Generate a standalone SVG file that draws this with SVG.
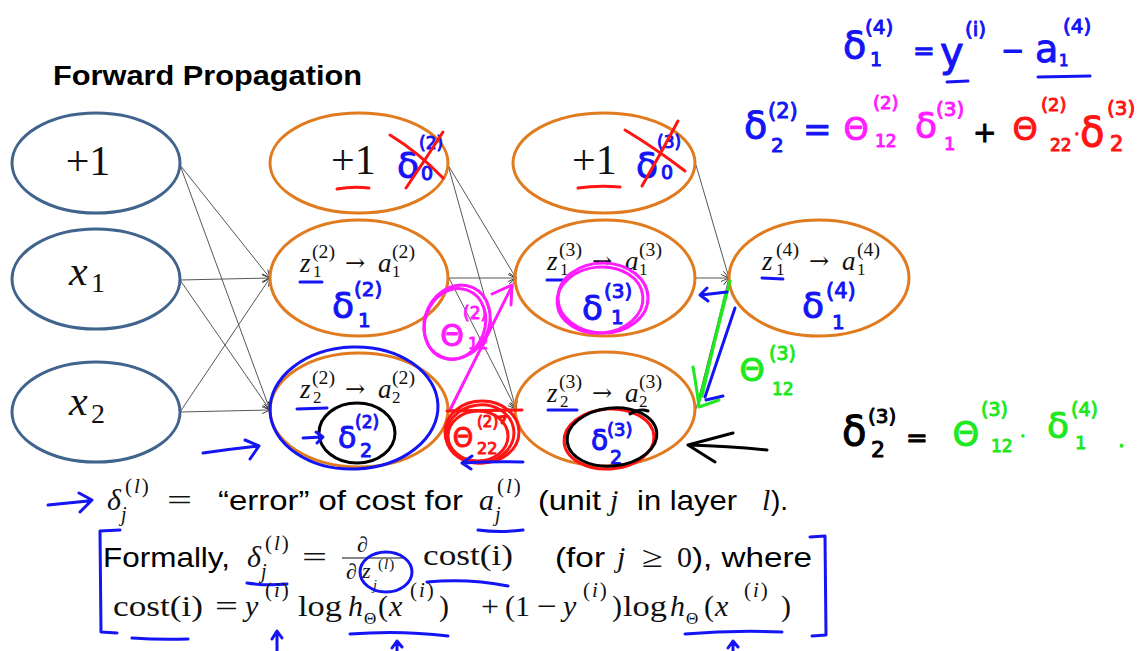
<svg xmlns="http://www.w3.org/2000/svg" width="1139" height="651" viewBox="0 0 1139 651">
<defs>
<marker id="arr" markerUnits="userSpaceOnUse" markerWidth="10" markerHeight="8" refX="9" refY="4" orient="auto">
<path d="M1,0.5 L9,4 L1,7.5" fill="none" stroke="#333" stroke-width="0.9"/>
</marker>
</defs>
<style>
.in{fill:none;stroke:#41648c;stroke-width:3}
.hn{fill:none;stroke:#e07b1f;stroke-width:3}
.cn line{stroke:#444;stroke-width:0.9;marker-end:url(#arr)}
.m{font-family:"Liberation Serif",serif;fill:#111}
.mi{font-style:italic}
.sup{font-size:21px;letter-spacing:2px}
.ar{font-family:"DejaVu Serif",serif;font-size:24px}
.s{font-family:"Liberation Sans",sans-serif;fill:#000}
.hw{font-family:"DejaVu Sans","Liberation Sans",sans-serif;stroke-width:1;stroke-linejoin:round}
.b{fill:#1414f5;stroke:#1414f5}.p{fill:#ff1cff;stroke:#ff1cff}.r{fill:#ff1414;stroke:#ff1414}.g{fill:#1ee81e;stroke:#1ee81e}.k{fill:#000;stroke:#000}
.sb,.sp,.sr,.sg,.sk{fill:none;stroke-width:3;stroke-linecap:round;stroke-linejoin:round}
.sb{stroke:#1414f5}.sp{stroke:#ff1cff}.sr{stroke:#ff1414}.sg{stroke:#1ee81e}.sk{stroke:#000}
</style>
<rect width="1139" height="651" fill="#fff"/>

<text class="s" x="53" y="85" font-size="28" font-weight="bold" textLength="309" lengthAdjust="spacingAndGlyphs">Forward Propagation</text>

<!-- connectors -->
<g id="connectors" class="cn">
<line x1="180" y1="165" x2="270" y2="278"/>
<line x1="180" y1="165" x2="270" y2="410"/>
<line x1="180" y1="280" x2="270" y2="278"/>
<line x1="180" y1="280" x2="270" y2="410"/>
<line x1="180" y1="412" x2="270" y2="278"/>
<line x1="180" y1="412" x2="270" y2="410"/>
<line x1="448" y1="165" x2="516" y2="278"/>
<line x1="448" y1="165" x2="516" y2="409"/>
<line x1="449" y1="278" x2="516" y2="278"/>
<line x1="449" y1="278" x2="516" y2="409"/>
<line x1="449" y1="410" x2="516" y2="278"/>
<line x1="449" y1="410" x2="516" y2="409"/>
<line x1="696" y1="165" x2="729" y2="278"/>
<line x1="696" y1="278" x2="729" y2="278"/>
<line x1="696" y1="409" x2="729" y2="278"/>
</g>

<!-- input layer -->
<g id="in0"><ellipse class="in" cx="96" cy="163" rx="84" ry="50"/><text class="m" x="88" y="175" font-size="42" text-anchor="middle">+1</text></g>
<g id="in1"><ellipse class="in" cx="96" cy="279" rx="84" ry="50"/><text class="m mi" x="69" y="285" font-size="42">x</text><text class="m" x="91" y="292" font-size="28">1</text></g>
<g id="in2"><ellipse class="in" cx="96" cy="412" rx="84" ry="50"/><text class="m mi" x="69" y="415" font-size="42">x</text><text class="m" x="91" y="423" font-size="28">2</text></g>

<!-- layer 2 -->
<g id="l2n0"><ellipse class="hn" cx="359" cy="163" rx="89" ry="50"/><text class="m" x="331" y="174" font-size="42">+1</text></g>
<g id="l2n1"><ellipse class="hn" cx="359" cy="278" rx="89" ry="58"/>
<g class="m" font-size="27" transform="translate(300,272)"><text class="mi" x="0" y="0">z</text><text x="13" y="5" font-size="17">1</text><text x="12" y="-14" font-size="18" textLength="23" lengthAdjust="spacingAndGlyphs">(2)</text><text class="ar" x="45" y="-1">→</text><text class="mi" x="78" y="0">a</text><text x="92" y="5" font-size="17">1</text><text x="92" y="-14" font-size="18" textLength="23" lengthAdjust="spacingAndGlyphs">(2)</text></g></g>
<g id="l2n2"><ellipse class="hn" cx="359" cy="410" rx="89" ry="57"/>
<g class="m" font-size="27" transform="translate(300,398)"><text class="mi" x="0" y="0">z</text><text x="13" y="5" font-size="17">2</text><text x="12" y="-14" font-size="18" textLength="23" lengthAdjust="spacingAndGlyphs">(2)</text><text class="ar" x="45" y="-1">→</text><text class="mi" x="78" y="0">a</text><text x="92" y="5" font-size="17">2</text><text x="92" y="-14" font-size="18" textLength="23" lengthAdjust="spacingAndGlyphs">(2)</text></g></g>

<!-- layer 3 -->
<g id="l3n0"><ellipse class="hn" cx="604" cy="163" rx="91" ry="50"/><text class="m" x="572" y="174" font-size="42">+1</text></g>
<g id="l3n1"><ellipse class="hn" cx="605" cy="278" rx="90" ry="58"/>
<g class="m" font-size="27" transform="translate(547,270)"><text class="mi" x="0" y="0">z</text><text x="13" y="5" font-size="17">1</text><text x="12" y="-14" font-size="18" textLength="23" lengthAdjust="spacingAndGlyphs">(3)</text><text class="ar" x="45" y="-1">→</text><text class="mi" x="78" y="0">a</text><text x="92" y="5" font-size="17">1</text><text x="92" y="-14" font-size="18" textLength="23" lengthAdjust="spacingAndGlyphs">(3)</text></g></g>
<g id="l3n2"><ellipse class="hn" cx="605" cy="409" rx="90" ry="57"/>
<g class="m" font-size="27" transform="translate(547,402)"><text class="mi" x="0" y="0">z</text><text x="13" y="5" font-size="17">2</text><text x="12" y="-14" font-size="18" textLength="23" lengthAdjust="spacingAndGlyphs">(3)</text><text class="ar" x="45" y="-1">→</text><text class="mi" x="78" y="0">a</text><text x="92" y="5" font-size="17">2</text><text x="92" y="-14" font-size="18" textLength="23" lengthAdjust="spacingAndGlyphs">(3)</text></g></g>

<!-- layer 4 -->
<g id="l4n1"><ellipse class="hn" cx="819" cy="278" rx="90" ry="58"/>
<g class="m" font-size="27" transform="translate(762,270)"><text class="mi" x="0" y="0">z</text><text x="14" y="5" font-size="17">1</text><text x="14" y="-14" font-size="18" textLength="23" lengthAdjust="spacingAndGlyphs">(4)</text><text class="ar" x="47" y="-1">→</text><text class="mi" x="80" y="0">a</text><text x="95" y="5" font-size="17">1</text><text x="95" y="-14" font-size="18" textLength="23" lengthAdjust="spacingAndGlyphs">(4)</text></g></g>

<!-- handwritten annotations on network -->
<g id="annotations">
<path class="sr" d="M337,189 Q353,186 369,188"/>
<text class="hw b" x="397" y="178" font-size="36">δ</text><text class="hw b" x="419" y="149" font-size="17">(2)</text><text class="hw b" x="421" y="180" font-size="19">0</text>
<path class="sr" d="M390,135 Q418,152 443,178 M443,132 Q425,160 406,188"/>
<path class="sr" d="M578,188 Q598,185 620,187"/>
<text class="hw b" x="636" y="178" font-size="36">δ</text><text class="hw b" x="657" y="148" font-size="17">(3)</text><text class="hw b" x="661" y="179" font-size="19">0</text>
<path class="sr" d="M625,130 Q655,148 685,171 M678,121 Q660,155 642,186"/>
<path class="sb" d="M300,282 L322,282 M297,409 L327,408 M547,280 L567,280 M548,410 L577,410 M762,278 L783,279"/>
<text class="hw b" x="332" y="318" font-size="36">δ</text><text class="hw b" x="354" y="296" font-size="20">(2)</text><text class="hw b" x="358" y="327" font-size="20">1</text>
<text class="hw b" x="582" y="320" font-size="34">δ</text><text class="hw b" x="604" y="298" font-size="20">(3)</text><text class="hw b" x="611" y="324" font-size="20">1</text>
<text class="hw b" x="802" y="318" font-size="36">δ</text><text class="hw b" x="826" y="298" font-size="21">(4)</text><text class="hw b" x="832" y="329" font-size="20">1</text>
<text class="hw b" x="338" y="448" font-size="30">δ</text><text class="hw b" x="355" y="428" font-size="17">(2)</text><text class="hw b" x="360" y="457" font-size="19">2</text>
<text class="hw b" x="591" y="450" font-size="28">δ</text><text class="hw b" x="607" y="436" font-size="18">(3)</text><text class="hw b" x="610" y="464" font-size="19">2</text>
<ellipse class="sb" cx="354" cy="408" rx="84" ry="61" transform="rotate(-2 354 408)"/>
<ellipse class="sk" cx="357" cy="433" rx="38" ry="30"/>
<path class="sb" d="M303,438 L322,437 M316,432 L323,437 L317,443"/>
<path class="sb" d="M203,453 Q230,449 258,446 M245,440 L259,446 L250,459"/>
<ellipse class="sp" cx="457" cy="322" rx="32" ry="38" transform="rotate(25 457 322)"/>
<ellipse class="sp" cx="455" cy="324" rx="30" ry="36" transform="rotate(20 455 324)"/>
<text class="hw p" x="452" y="346" font-size="30" text-anchor="middle">Θ</text>
<text class="hw p" x="463" y="319" font-size="17">(2)</text><text class="hw p" x="468" y="349" font-size="16">12</text>
<path class="sp" stroke-width="5" d="M450,410 L512,286"/>
<path class="sp" stroke-width="4" d="M492,294 L512,285 L511,305"/>
<ellipse class="sp" cx="603" cy="298" rx="45" ry="35"/>
<ellipse class="sp" cx="600" cy="300" rx="43" ry="33" transform="rotate(-5 600 300)"/>
<path class="sr" stroke-width="4" d="M447,411 L522,410"/>
<ellipse class="sr" cx="482" cy="432" rx="37" ry="31"/>
<ellipse class="sr" cx="480" cy="434" rx="34" ry="29" transform="rotate(-8 480 434)"/>
<ellipse class="sr" cx="478" cy="436" rx="30" ry="25"/>
<text class="hw r" x="463" y="447" font-size="26" text-anchor="middle">Θ</text>
<text class="hw r" x="477" y="427" font-size="15">(2)</text><text class="hw r" x="477" y="454" font-size="16">22</text>
<path class="sr" stroke-width="2" d="M499,417 L506,416 L502,423"/>
<path class="sb" d="M523,462 Q492,461 463,463 M472,456 L462,463 L471,469"/>
<ellipse class="sr" cx="609" cy="439" rx="45" ry="30" transform="rotate(-4 609 439)"/>
<ellipse class="sk" cx="612" cy="437" rx="45" ry="29" transform="rotate(-6 612 437)"/>
<path class="sk" d="M630,414 Q640,408 648,411"/>
<path class="sg" stroke-width="5" d="M730,281 L699,402"/>
<path class="sg" d="M726,292 L702,396 M693,367 Q697,390 699,407 L719,400"/>
<path class="sb" d="M735,308 L705,397 M706,400 L723,396"/>
<path class="sb" d="M727,292 L701,295 M707,288 L700,295 L708,301"/>
<text class="hw g" x="752" y="381" font-size="32" text-anchor="middle">Θ</text>
<text class="hw g" x="769" y="360" font-size="19">(3)</text><text class="hw g" x="772" y="395" font-size="17">12</text>
<path class="sk" stroke-width="4" d="M767,450 Q730,446 688,445 M733,433 L688,445 L715,462"/>
</g>

<!-- top right equations -->
<g id="eqs">
<text class="hw b" x="843" y="58" font-size="38">δ</text><text class="hw b" x="865" y="34" font-size="20">(4)</text><text class="hw b" x="870" y="66" font-size="19">1</text>
<text class="hw b" x="913" y="60" font-size="26">=</text>
<text class="hw b" x="940" y="66" font-size="40">y</text><text class="hw b" x="965" y="36" font-size="20">(i)</text>
<path class="sb" d="M947,82 L968,81"/>
<text class="hw b" x="1001" y="60" font-size="28">−</text>
<text class="hw b" x="1035" y="62" font-size="38">a</text><text class="hw b" x="1063" y="33" font-size="20">(4)</text><text class="hw b" x="1059" y="66" font-size="15">1</text>
<path class="sb" d="M1038,77 L1090,76"/>

<text class="hw b" x="744" y="138" font-size="38">δ</text><text class="hw b" x="768" y="118" font-size="21">(2)</text><text class="hw b" x="771" y="152" font-size="20">2</text>
<text class="hw b" x="803" y="141" font-size="34">=</text>
<text class="hw p" x="856" y="140" font-size="32" text-anchor="middle">Θ</text><text class="hw p" x="873" y="109" font-size="18">(2)</text><text class="hw p" x="875" y="147" font-size="17">12</text>
<text class="hw p" x="915" y="138" font-size="36">δ</text><text class="hw p" x="936" y="116" font-size="20">(3)</text><text class="hw p" x="944" y="150" font-size="18">1</text>
<text class="hw k" x="973" y="142" font-size="28">+</text>
<text class="hw r" x="1025" y="140" font-size="32" text-anchor="middle">Θ</text><text class="hw r" x="1041" y="111" font-size="18">(2)</text><text class="hw r" x="1050" y="151" font-size="17">22</text>
<text class="hw r" x="1074" y="140" font-size="18">·</text>
<text class="hw r" x="1080" y="146" font-size="40">δ</text><text class="hw r" x="1107" y="115" font-size="20">(3)</text><text class="hw r" x="1110" y="151" font-size="21">2</text>

<text class="hw k" x="842" y="445" font-size="40">δ</text><text class="hw k" x="868" y="423" font-size="20">(3)</text><text class="hw k" x="871" y="457" font-size="22">2</text>
<text class="hw k" x="906" y="447" font-size="26">=</text>
<text class="hw g" x="966" y="446" font-size="34" text-anchor="middle">Θ</text><text class="hw g" x="981" y="416" font-size="19">(3)</text><text class="hw g" x="991" y="452" font-size="17">12</text>
<text class="hw g" x="1020" y="442" font-size="18">·</text>
<text class="hw g" x="1047" y="438" font-size="36">δ</text><text class="hw g" x="1071" y="416" font-size="19">(4)</text><text class="hw g" x="1075" y="449" font-size="18">1</text>
<text class="hw g" x="1118" y="447" font-size="22">.</text>
</g>

<!-- bottom definitions -->
<g id="definitions">
<path class="sb" d="M48,505 Q68,503 88,501 M79,493 L92,500 L80,512"/>
<text class="m mi" x="107" y="510" font-size="30">δ</text><text class="m sup" x="125" y="493">(<tspan class="mi">l</tspan>)</text><text class="m mi" x="121" y="521" font-size="20">j</text>
<text class="m" x="167" y="510" font-size="30" textLength="25" lengthAdjust="spacingAndGlyphs">=</text>
<text class="s" x="218" y="510" font-size="28" textLength="245" lengthAdjust="spacingAndGlyphs">“error” of cost for</text>
<text class="m mi" x="479" y="510" font-size="30">a</text><text class="m sup" x="497" y="493">(<tspan class="mi">l</tspan>)</text><text class="m mi" x="495" y="521" font-size="20">j</text>
<path class="sb" d="M478,530 Q500,533 523,530"/>
<text class="s" x="538" y="510" font-size="28" textLength="63" lengthAdjust="spacingAndGlyphs">(unit</text>
<text class="m mi" x="610" y="510" font-size="30">j</text>
<text class="s" x="637" y="510" font-size="28" textLength="100" lengthAdjust="spacingAndGlyphs">in layer</text>
<text class="m mi" x="762" y="510" font-size="30">l</text>
<text class="s" x="771" y="510" font-size="28">).</text>

<path class="sb" d="M120,530 L100,531 L101,632 L117,633"/>
<text class="s" x="103" y="567" font-size="28" textLength="127" lengthAdjust="spacingAndGlyphs">Formally,</text>
<text class="m mi" x="247" y="567" font-size="30">δ</text><text class="m sup" x="265" y="550">(<tspan class="mi">l</tspan>)</text><text class="m mi" x="261" y="578" font-size="20">j</text>
<path class="sb" d="M247,583 Q267,586 287,584"/>
<text class="m" x="302" y="567" font-size="30" textLength="25" lengthAdjust="spacingAndGlyphs">=</text>
<text class="m" x="357" y="552" font-size="22">∂</text>
<line x1="342" y1="558" x2="405" y2="558" stroke="#111" stroke-width="1.2"/>
<text class="m" x="346" y="579" font-size="22">∂</text><text class="m mi" x="362" y="578" font-size="22">z</text><text class="m" x="378" y="569" font-size="15" letter-spacing="1">(<tspan class="mi">l</tspan>)</text><text class="m mi" x="373" y="590" font-size="14">j</text>
<ellipse class="sb" cx="386" cy="572" rx="26" ry="20"/>
<text class="m" x="423" y="565" font-size="30" textLength="90" lengthAdjust="spacingAndGlyphs">cost(i)</text>
<path class="sb" d="M427,582 Q468,578 508,586"/>
<text class="s" x="555" y="567" font-size="28" textLength="50" lengthAdjust="spacingAndGlyphs">(for</text>
<text class="m mi" x="617" y="567" font-size="30">j</text>
<text class="m" x="642" y="567" font-size="30" textLength="21" lengthAdjust="spacingAndGlyphs">≥</text>
<text class="m" x="677" y="567" font-size="30">0</text>
<text class="s" x="692" y="567" font-size="28" textLength="120" lengthAdjust="spacingAndGlyphs">), where</text>
<path class="sb" d="M810,537 L825,536 L826,635 L812,636"/>

<text class="m" x="113" y="616" font-size="30" textLength="90" lengthAdjust="spacingAndGlyphs">cost(i)</text>
<text class="m" x="215" y="616" font-size="30" textLength="23" lengthAdjust="spacingAndGlyphs">=</text>
<text class="m mi" x="245" y="616" font-size="30">y</text><text class="m sup" x="265" y="597">(<tspan class="mi">i</tspan>)</text>
<text class="m" x="298" y="616" font-size="30" textLength="44" lengthAdjust="spacingAndGlyphs">log</text>
<text class="m mi" x="348" y="616" font-size="30">h</text><text class="m" x="364" y="624" font-size="17">Θ</text>
<text class="m" x="378" y="616" font-size="30">(</text><text class="m mi" x="389" y="616" font-size="30">x</text><text class="m sup" x="410" y="597">(<tspan class="mi">i</tspan>)</text><text class="m" x="439" y="616" font-size="30">)</text>
<text class="m" x="481" y="616" font-size="30" textLength="18" lengthAdjust="spacingAndGlyphs">+</text>
<text class="m" x="505" y="616" font-size="30">(1</text>
<text class="m" x="537" y="616" font-size="30" textLength="20" lengthAdjust="spacingAndGlyphs">−</text>
<text class="m mi" x="563" y="616" font-size="30">y</text><text class="m sup" x="583" y="597">(<tspan class="mi">i</tspan>)</text><text class="m" x="612" y="616" font-size="30">)</text>
<text class="m" x="623" y="616" font-size="30" textLength="44" lengthAdjust="spacingAndGlyphs">log</text>
<text class="m mi" x="670" y="616" font-size="30">h</text><text class="m" x="686" y="624" font-size="17">Θ</text>
<text class="m" x="704" y="616" font-size="30">(</text><text class="m mi" x="715" y="616" font-size="30">x</text><text class="m sup" x="744" y="597" letter-spacing="3">(<tspan class="mi">i</tspan>)</text><text class="m" x="781" y="616" font-size="30">)</text>
<path class="sb" d="M132,638 Q160,640 188,639"/>
<path class="sb" d="M350,634 Q400,630 448,636"/>
<path class="sb" d="M685,634 Q733,630 782,632"/>
<path class="sb" stroke-width="2" d="M277,651 L277,632 M272,639 L277,631 L282,638"/>
<path class="sb" stroke-width="2" d="M397,651 L397,642 M392,648 L397,641 L402,647"/>
<path class="sb" stroke-width="2" d="M733,651 L733,642 M728,648 L733,641 L738,647"/>
</g>
</svg>
